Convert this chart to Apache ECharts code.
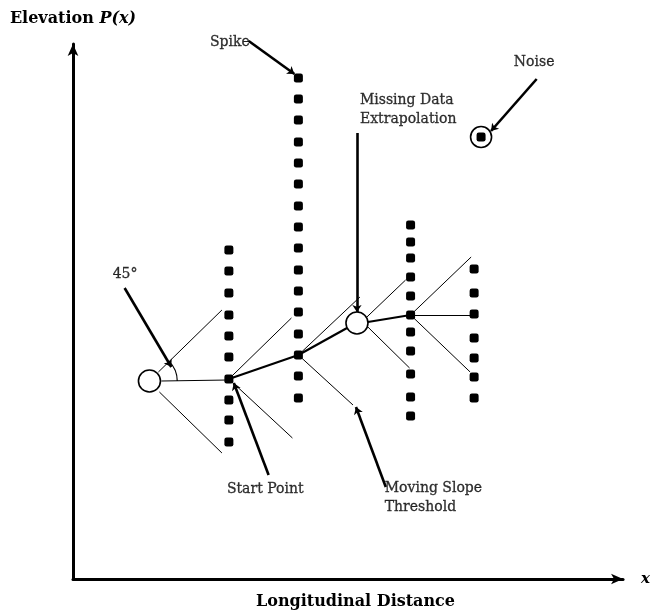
<!DOCTYPE html>
<html><head><meta charset="utf-8">
<script src="https://cdn.jsdelivr.net/npm/echarts@6/dist/echarts.min.js"></script>
<style>html,body{margin:0;padding:0;background:#fff}#c{width:653px;height:610px}</style>
</head><body><div id="c"></div>
<script>
// Data units: longitudinal distance (x) and elevation P(x) (y)
const xMax = 554, yMax = 535;
const col1X = 157, col1Y = [329, 308, 286, 264, 243, 222, 200, 179, 159, 137];
const col2X = 227, col2Y = [501, 480, 459, 437, 416, 395, 373, 352, 331, 309, 288, 267, 245, 224, 203, 181];
const col3X = 340, col3Y = [354, 337, 321, 302, 283, 264, 247, 228, 205, 182, 163];
const col4X = 404, col4Y = [310, 286, 265, 241, 221, 202, 181];
const noisePoint = [411, 442];
const openCircles = [[77, 198], [286, 256]];
// slope-threshold fan lines [x1,y1,x2,y2,width]
const fanLines = [
  [86, 207, 150, 269, 1], [89, 198, 156, 199, 1], [87, 187, 150, 126, 1],
  [157, 200, 220, 261, 1], [157, 200, 227, 224, 2.2], [157, 200, 221, 141, 1],
  [227, 224, 289, 282, 1], [227, 224, 276, 251, 2.2], [227, 224, 282, 174, 1],
  [296, 262, 335, 299, 1], [297, 257, 340, 264, 2.2], [297, 252, 339, 211, 1],
  [340, 264, 401, 322, 1], [340, 264, 404, 264, 1], [340, 264, 400, 207, 1]
];
// annotation arrows [x1,y1,x2,y2] (arrow head at second point)
const arrows = [
  [177, 538, 223, 505], [467, 500, 421, 448], [286, 446, 286, 267],
  [52, 291, 99, 212], [197, 104, 162, 196], [315, 92, 285, 172]
];
const labels = [
  ['Spike', 138, 537], ['Noise', 444, 517], ['Missing Data\nExtrapolation', 289, 469],
  ['45°', 40, 305], ['Start Point', 155, 90], ['Moving Slope\nThreshold', 314, 81]
];
const angleArc = [77, 198, 28]; // centre x, y, radius

const FONT = 'DejaVu Serif';
const toPts = (x, ys) => ys.map(y => [x, y]);
const squares = [].concat(toPts(col1X, col1Y), toPts(col2X, col2Y), toPts(col3X, col3Y), toPts(col4X, col4Y), [noisePoint]);

const chart = echarts.init(document.getElementById('c'), null, {renderer: 'canvas'});
const axisCommon = {
  type: 'value', splitLine: {show: false}, axisTick: {show: false}, axisLabel: {show: false},
  axisLine: {show: true, symbol: ['none', 'arrow'], symbolSize: [8, 12], symbolOffset: [0, 0],
    lineStyle: {color: '#000', width: 3}}
};
chart.setOption({
  animation: false,
  backgroundColor: '#fff',
  grid: {left: 73, right: 26, top: 44, bottom: 31},
  title: {text: 'Longitudinal Distance', left: 251, top: 589,
    textStyle: {fontFamily: FONT, fontWeight: 'bold', fontSize: 16, color: '#000'}},
  xAxis: Object.assign({}, axisCommon, {min: 0, max: xMax, name: 'x', nameLocation: 'end', nameGap: 18,
    nameTextStyle: {fontFamily: FONT, fontStyle: 'italic', fontWeight: 'bold', fontSize: 15, color: '#000', verticalAlign: 'middle', padding: [4, 0, 0, 0]}}),
  yAxis: Object.assign({}, axisCommon, {min: 0, max: yMax, name: '{b|Elevation }{i|P(x)}', nameLocation: 'end', nameGap: 17,
    nameTextStyle: {rich: {
      b: {fontFamily: FONT, fontWeight: 'bold', fontSize: 16, color: '#000'},
      i: {fontFamily: FONT, fontStyle: 'italic', fontWeight: 'bold', fontSize: 16, color: '#000'}}}}),
  series: [
    {type: 'lines', coordinateSystem: 'cartesian2d', z: 2, symbol: ['none', 'none'], clip: false,
      data: fanLines.map(l => ({coords: [[l[0], l[1]], [l[2], l[3]]], lineStyle: {width: l[4]}})),
      lineStyle: {color: '#000', opacity: 1}},
    {type: 'lines', coordinateSystem: 'cartesian2d', z: 3, symbol: ['none', 'arrow'], symbolSize: 7, clip: false,
      data: arrows.map(l => ({coords: [[l[0], l[1]], [l[2], l[3]]]})),
      lineStyle: {color: '#000', width: 2.6, opacity: 1}},
    {type: 'custom', z: 3, data: [angleArc], clip: false,
      renderItem: (params, api) => {
        const c = api.coord([api.value(0), api.value(1)]);
        const r = api.size([api.value(2), 0])[0];
        return {type: 'arc', shape: {cx: c[0], cy: c[1], r: r, startAngle: -Math.PI / 4, endAngle: 0},
          style: {stroke: '#000', lineWidth: 1.2, fill: null}};
      }},
    {type: 'scatter', z: 4, symbol: 'roundRect', symbolSize: 9, data: squares,
      itemStyle: {color: '#000', opacity: 1}},
    {type: 'scatter', z: 5, symbol: 'circle', symbolSize: 22, data: openCircles,
      itemStyle: {color: '#fff', borderColor: '#000', borderWidth: 1.6, opacity: 1}},
    {type: 'scatter', z: 5, symbol: 'circle', symbolSize: 21, data: [noisePoint],
      itemStyle: {color: 'rgba(0,0,0,0)', borderColor: '#000', borderWidth: 1.6, opacity: 1}},
    {type: 'scatter', z: 6, symbolSize: 0, silent: true, clip: false,
      data: labels.map(l => ({value: [l[1], l[2]], name: l[0]})),
      label: {show: true, position: 'inside', formatter: p => p.name, align: 'left', verticalAlign: 'middle',
        fontFamily: FONT, fontSize: 14, lineHeight: 19, color: '#000', textBorderColor: '#000', textBorderWidth: 0.3}}
  ]
});
</script></body></html>
